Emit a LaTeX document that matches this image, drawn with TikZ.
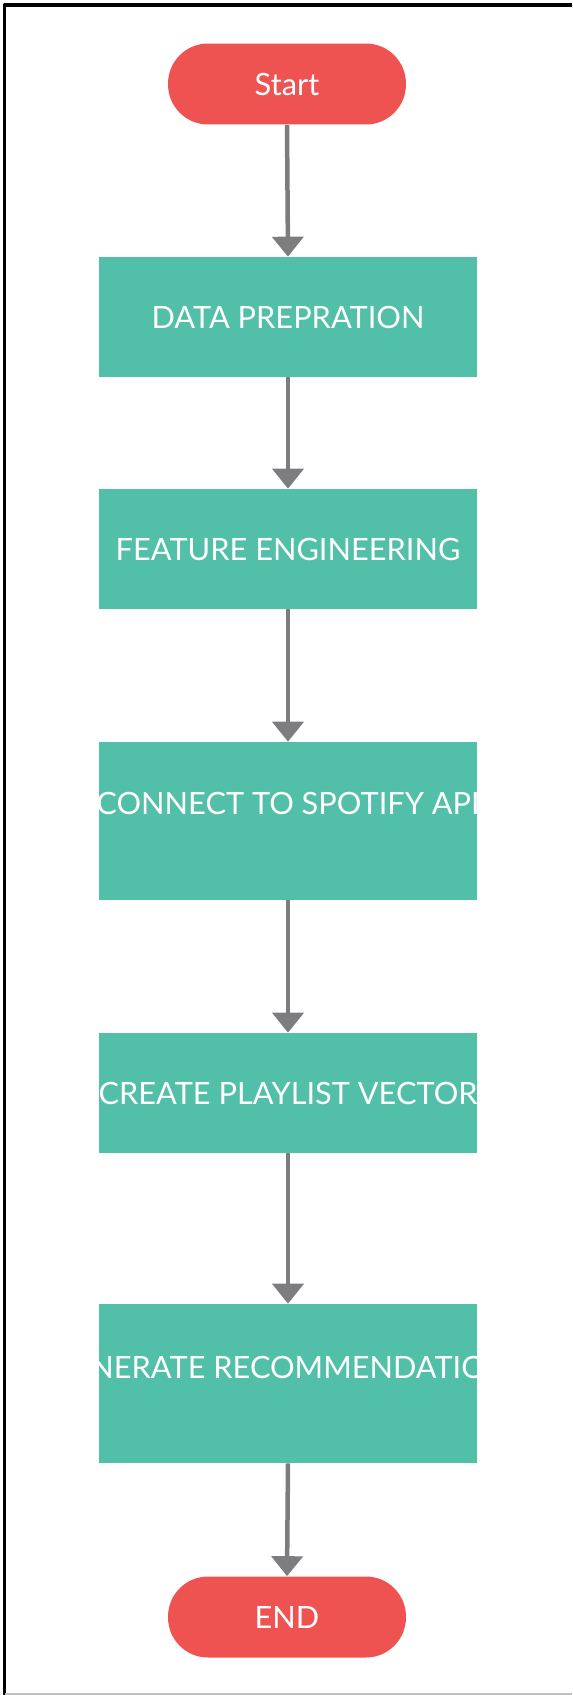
\documentclass[tikz,border=0pt]{standalone}
\usepackage{fontspec}
\setmainfont{Lato}
\usetikzlibrary{arrows.meta}
\definecolor{termred}{RGB}{238,83,82}
\definecolor{stepteal}{RGB}{82,191,168}
\definecolor{flowgray}{RGB}{125,125,128}
\begin{document}
\begin{tikzpicture}[line cap=butt,line join=round,x=0.02cm,y=-0.02cm,
		font=\fontsize{17.5}{21}\selectfont,
		terminal/.style={fill=termred,text=white,rounded corners=0.8cm,minimum width=4.76cm,minimum height=1.62cm,inner sep=0pt},
		stepbox/.style={fill=stepteal,minimum width=7.56cm,inner sep=0pt},
		steptext/.style={text=white,inner sep=0pt},
		flow/.style={draw=flowgray,line width=0.09cm,-{Triangle[width=0.62cm,length=0.4cm]}}]
		\useasboundingbox (0,0) rectangle (572,1695);
		\draw[line width=0.07cm] (4.5,1695) -- (4.5,5) -- (572,5);
		\draw[black!25,line width=0.04cm] (4.5,1694) -- (572,1694);
		\node[terminal] (start) at (287,84) {Start};
		\node[stepbox,minimum height=2.4cm] (prep) at (288,317) {};
		\node[stepbox,minimum height=2.4cm] (feat) at (288,549) {};
		\node[stepbox,minimum height=3.16cm] (api) at (288,821) {};
		\node[stepbox,minimum height=2.4cm] (vec) at (288,1093) {};
		\node[stepbox,minimum height=3.18cm] (rec) at (288,1383.5) {};
		\node[terminal] (end) at (287,1617) {END};
		\node[steptext] (preptext) at (prep.center) {DATA PREPRATION};
		\node[steptext] (feattext) at (feat.center) {FEATURE ENGINEERING};
		\begin{scope}
			\clip (api.south west) rectangle (api.north east);
			\node[steptext] (apitext) at (288,803) {CONNECT TO SPOTIFY API};
		\end{scope}
		\begin{scope}
			\clip (vec.south west) rectangle (vec.north east);
			\node[steptext] (vectext) at (vec.center) {CREATE PLAYLIST VECTOR};
		\end{scope}
		\begin{scope}
			\clip (rec.south west) rectangle (rec.north east);
			\node[steptext] (rectext) at (288,1367) {GENERATE RECOMMENDATIONS};
		\end{scope}
		\draw[flow] (start.south) -- (prep.north);
		\draw[flow] (prep.south) -- (feat.north);
		\draw[flow] (feat.south) -- (api.north);
		\draw[flow] (api.south) -- (vec.north);
		\draw[flow] (vec.south) -- (rec.north);
		\draw[flow] (rec.south) -- (end.north);
\end{tikzpicture}
\end{document}
